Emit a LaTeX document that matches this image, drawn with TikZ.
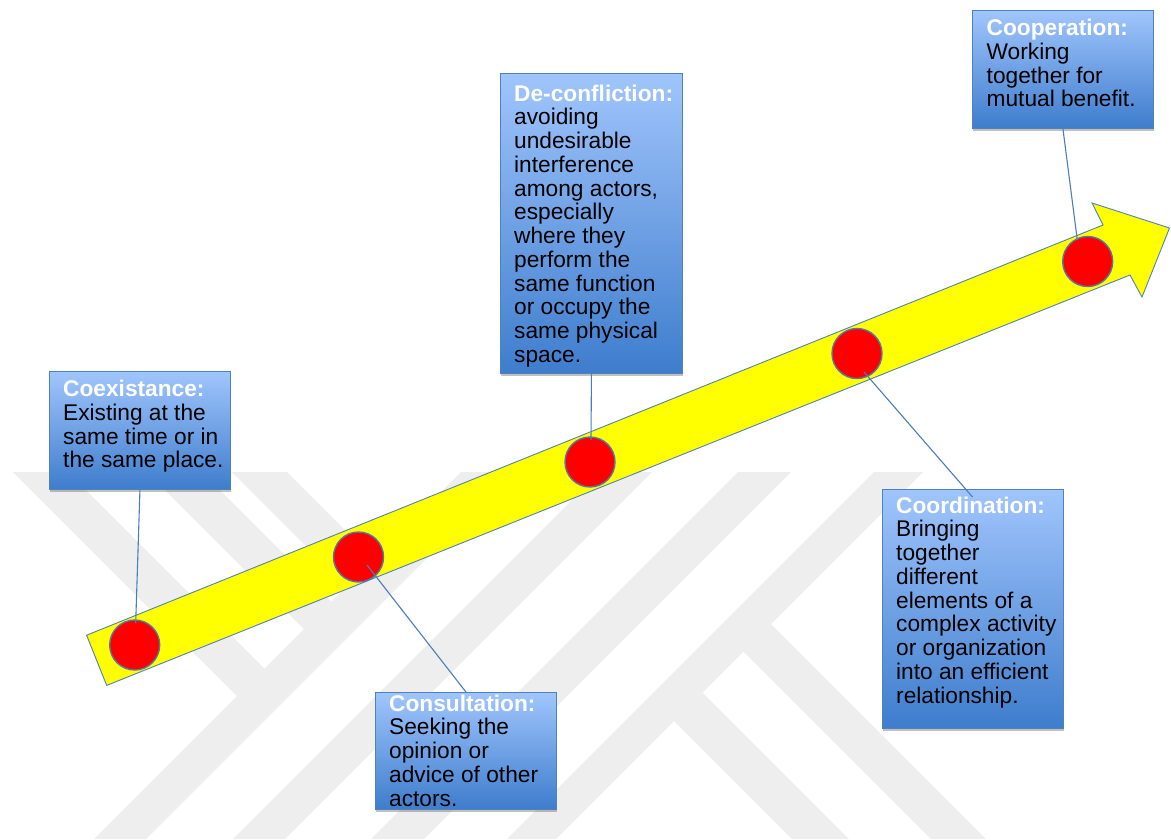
\documentclass[tikz,border=0pt]{standalone}
\usepackage{fontspec}
\setmainfont{Liberation Sans}
\usetikzlibrary{shadows}

\definecolor{wmgray}{RGB}{238,238,238}
\definecolor{edgeblue}{RGB}{79,129,189}
\definecolor{linkblue}{RGB}{74,126,187}
\definecolor{boxtop}{RGB}{160,197,252}
\definecolor{boxbot}{RGB}{62,125,205}
\definecolor{dotedge}{RGB}{80,120,170}
\definecolor{arrowfill}{RGB}{255,255,0}

\newcommand{\headword}[1]{\textcolor{white}{\textbf{#1}}}

\begin{document}
\begin{tikzpicture}[x=1pt,y=-1pt,
  box/.style={rectangle, draw=edgeblue, line width=0.9pt,
    top color=boxtop, bottom color=boxbot, anchor=north west, inner sep=0pt,
    drop shadow={shadow xshift=0.8pt, shadow yshift=-2.5pt, opacity=0.35, fill=black!70}},
  blurb/.style={anchor=north west, inner sep=0pt, align=left, text=black,
    font=\fontsize{22.7}{23.75}\selectfont},
  stage/.style={circle, fill=red, draw=dotedge, line width=1.4pt,
    minimum size=50pt, inner sep=0pt},
  link/.style={draw=linkblue, line width=1.1pt},
  wm/.style={fill=wmgray},
  arrowbody/.style={fill=arrowfill, draw=edgeblue, line width=0.9pt, line join=miter}
]
\useasboundingbox (0,0) rectangle (1171,839);
\fill[white] (0,0) rectangle (1171,839);

% faint background emblem made of diagonal bands
\begin{scope}
  \clip (13,472) rectangle (1171,839);
  \fill[wm] (94,839) -- (461,472) -- (513,472) -- (146,839) -- cycle;
  \fill[wm] (233,839) -- (600,472) -- (652,472) -- (285,839) -- cycle;
  \fill[wm] (371,839) -- (738,472) -- (791,472) -- (424,839) -- cycle;
  \fill[wm] (507,839) -- (874,472) -- (923,472) -- (556,839) -- cycle;
  \fill[wm] (13,472) -- (68,472) -- (264.5,668.5) -- (237,696) -- cycle;
  \fill[wm] (147,472) -- (202,472) -- (331.5,601.5) -- (304,629) -- cycle;
  \fill[wm] (232,472) -- (287,472) -- (374,559) -- (346.5,586.5) -- cycle;
  \fill[wm] (674,721) -- (702.5,692.5) -- (849,839) -- (792,839) -- cycle;
  \fill[wm] (743.5,651.5) -- (771,624) -- (986,839) -- (931,839) -- cycle;
\end{scope}

% the rising yellow arrow
\draw[arrowbody] (86.6,635.2) -- (1103,225) -- (1092,203) -- (1169.5,228)
  -- (1142,297) -- (1130,275) -- (106.7,685.4) -- cycle;

% stages along the arrow
\node[stage] (d1) at (134.7,645) {};
\node[stage] (d2) at (358.5,557) {};
\node[stage] (d3) at (590,462) {};
\node[stage] (d4) at (857,353.5) {};
\node[stage] (d5) at (1087.7,261.5) {};

% description boxes
\node[box, minimum width=181pt, minimum height=118pt] (coex) at (49,371) {};
\node[box, minimum width=181pt, minimum height=117pt] (consult) at (375,692) {};
\node[box, minimum width=182pt, minimum height=300pt] (deconf) at (500,73) {};
\node[box, minimum width=181pt, minimum height=118pt] (coop) at (972,10) {};
\node[box, minimum width=181pt, minimum height=239pt] (coord) at (882,489) {};

\node[blurb] (coex-t) at (63,379.5)
  {\rule{0pt}{17pt}\headword{Coexistance:}\\Existing at the\\same time or in\\the same place.};
\node[blurb] (consult-t) at (389,694)
  {\rule{0pt}{17pt}\headword{Consultation:}\\Seeking the\\opinion or\\advice of other\\actors.};
\node[blurb] (deconf-t) at (514,84)
  {\rule{0pt}{17pt}\headword{De-confliction:}\\avoiding\\undesirable\\interference\\among actors,\\especially\\where they\\perform the\\same function\\or occupy the\\same physical\\space.};
\node[blurb] (coop-t) at (986.5,18.5)
  {\rule{0pt}{17pt}\headword{Cooperation:}\\Working\\together for\\mutual benefit.};
\node[blurb] (coord-t) at (896,496)
  {\rule{0pt}{17pt}\headword{Coordination:}\\Bringing\\together\\different\\elements of a\\complex activity\\or organization\\into an efficient\\relationship.};

% leader lines from boxes to stages
\coordinate (d1-in) at (135.7,623);
\coordinate (d2-in) at (367,565);
\coordinate (d3-in) at (591,440);
\coordinate (d4-in) at (864,372);
\coordinate (d5-in) at (1077.3,240);
\coordinate (coord-in) at (972.5,497);

\draw[link] (coex.south) -- (d1-in);
\draw[link] (d2-in) -- (consult.north);
\draw[link] (deconf.south) -- (d3-in);
\draw[link] (d4-in) -- (coord-in);
\draw[link] (coop.south) -- (d5-in);
\end{tikzpicture}
\end{document}
